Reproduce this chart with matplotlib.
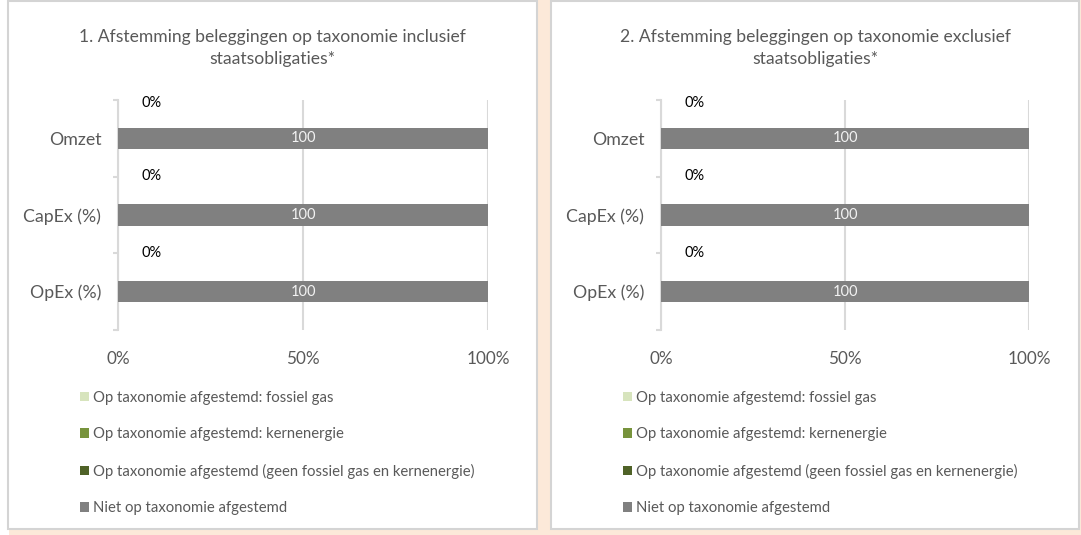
import matplotlib
matplotlib.use('Agg')
import matplotlib.pyplot as plt
from matplotlib.patches import Rectangle, Patch
import numpy as np

# ---------------- data ----------------
categories = ['Omzet', 'CapEx (%)', 'OpEx (%)']
series_names = ['Op taxonomie afgestemd: fossiel gas',
                'Op taxonomie afgestemd: kernenergie',
                'Op taxonomie afgestemd (geen fossiel gas en kernenergie)',
                'Niet op taxonomie afgestemd']
series_colors = ['#D7E4BD', '#77933C', '#4F6228', '#808080']
titles = ['1. Afstemming beleggingen op taxonomie inclusief\nstaatsobligaties*',
          '2. Afstemming beleggingen op taxonomie exclusief\nstaatsobligaties*']
incl_aligned = [0, 0, 0]
incl_not_aligned = [100, 100, 100]
excl_aligned = [0, 0, 0]
excl_not_aligned = [100, 100, 100]
xticks = [0, 50, 100]
xticklabels = ['0%', '50%', '100%']

# ---------------- style ----------------
plt.rcParams['font.family'] = ['Lato', 'DejaVu Sans']
W, H = 1081, 535
TXT = '#595959'
GRID = '#D9D9D9'

fig = plt.figure(figsize=(W / 100, H / 100), dpi=100)
fig.patch.set_facecolor('white')

def px_rect(x0, y0, x1, y1, **kw):
    return Rectangle((x0 / W, 1 - y1 / H), (x1 - x0) / W, (y1 - y0) / H,
                     transform=fig.transFigure, **kw)

fig.patches.append(px_rect(9, 0, W, H, facecolor='#FCE9D9', edgecolor='none', zorder=-3))

panels = [(8, 537), (551, 1079)]
axes_x = [(118, 488), (661, 1029)]
data_sets = [(incl_aligned, incl_not_aligned), (excl_aligned, excl_not_aligned)]

for k in range(2):
    px0, px1 = panels[k]
    fig.patches.append(px_rect(px0, 1, px1, 529, facecolor='white', edgecolor='#D4D4D4',
                               linewidth=1.5, zorder=-2))
    ax0, ax1 = axes_x[k]
    ax = fig.add_axes([ax0 / W, 1 - 330 / H, (ax1 - ax0) / W, 230 / H])
    ax.patch.set_alpha(0)
    aligned, not_aligned = data_sets[k]
    y = np.arange(len(categories))

    # zero-width series (aligned parts) and the "not aligned" series
    left = np.zeros(len(categories))
    for s in range(3):
        ax.barh(y, [0] * len(categories), left=left, height=0.28,
                color=series_colors[s], zorder=3)
    bars = ax.barh(y, not_aligned, left=left, height=0.28, color=series_colors[3], zorder=3)
    ax.bar_label(bars, labels=[f'{v}' for v in not_aligned], label_type='center',
                 color='#F2F2F2', fontsize=10.5)

    for i, v in enumerate(aligned):
        yl = max(i - 0.51, -0.46)
        ax.annotate(f'{v}%', xy=(v, yl), xytext=(24, 0), textcoords='offset points',
                    ha='center', va='center', fontsize=10.5, color='black', zorder=4)

    ax.set_xlim(0, 100)
    ax.set_ylim(len(categories) - 0.5, -0.5)
    ax.set_xticks(xticks)
    ax.set_xticklabels(xticklabels)
    ax.set_yticks(y)
    ax.set_yticklabels(categories)
    ax.set_yticks(np.arange(len(categories) + 1) - 0.5, minor=True)
    ax.tick_params(axis='x', length=0, pad=15, labelsize=12.3, labelcolor=TXT)
    ax.tick_params(axis='y', which='major', length=0, pad=12, labelsize=12.8, labelcolor=TXT)
    ax.tick_params(axis='y', which='minor', length=3.8, width=1.5, color=GRID)
    ax.xaxis.grid(True, color=GRID, linewidth=1.5, zorder=0)
    ax.set_axisbelow(True)
    for sp in ['top', 'right', 'bottom']:
        ax.spines[sp].set_visible(False)
    ax.spines['left'].set_color(GRID)
    ax.spines['left'].set_linewidth(1.5)

    cx = (px0 + px1) / 2
    fig.text(cx / W, 1 - 48 / H, titles[k], ha='center', va='center', fontsize=12.6,
             color=TXT, linespacing=1.5)

    handles = [Patch(facecolor=c, edgecolor='none') for c in series_colors]
    ax.legend(handles, series_names, loc='upper left',
              bbox_to_anchor=((px0 + 72) / W, 1 - 391 / H), bbox_transform=fig.transFigure,
              frameon=False, fontsize=10.7, labelcolor=TXT, handlelength=0.6,
              handleheight=0.6, handletextpad=0.25, labelspacing=1.51,
              borderpad=0, borderaxespad=0)

fig.savefig('out.png', dpi=100)
